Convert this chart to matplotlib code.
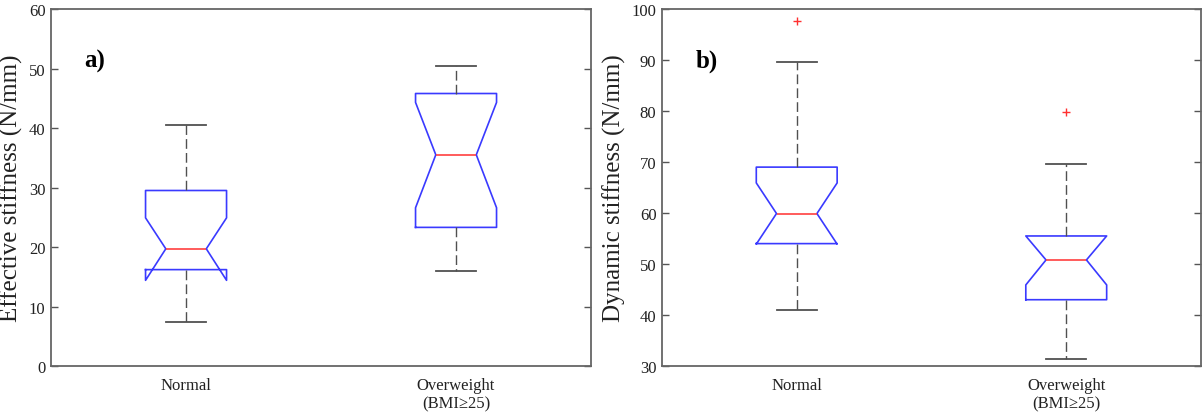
import matplotlib.pyplot as plt
import numpy as np

plt.rcParams["font.family"] = ["Liberation Serif", "DejaVu Serif"]

groups = ["Normal", "Overweight\n(BMI≥25)"]

# a) effective stiffness (N/mm)
eff_whislo = [7.4, 15.9]
eff_q1 = [16.2, 23.3]
eff_med = [19.7, 35.5]
eff_q3 = [29.5, 45.8]
eff_whishi = [40.45, 50.4]
eff_cilo = [14.4, 26.6]
eff_cihi = [24.9, 44.3]
eff_fliers = [[], []]

# b) dynamic stiffness (N/mm)
dyn_whislo = [41.0, 31.4]
dyn_q1 = [54.0, 43.0]
dyn_med = [59.9, 50.8]
dyn_q3 = [69.0, 55.5]
dyn_whishi = [89.6, 69.6]
dyn_cilo = [53.9, 45.9]
dyn_cihi = [65.9, 55.5]
dyn_fliers = [[97.7], [79.9]]


def make_stats(whislo, q1, med, q3, whishi, cilo, cihi, fliers):
    stats = []
    for i in range(len(med)):
        stats.append({
            "whislo": whislo[i], "q1": q1[i], "med": med[i], "q3": q3[i],
            "whishi": whishi[i], "cilo": cilo[i], "cihi": cihi[i],
            "fliers": np.array(fliers[i]),
        })
    return stats


fig = plt.figure(figsize=(12.04, 4.14), dpi=100)
ax1 = fig.add_axes([0.0424, 0.1135, 0.4485, 0.8623])
ax2 = fig.add_axes([0.5498, 0.1135, 0.4477, 0.8623])

panels = [
    (ax1, make_stats(eff_whislo, eff_q1, eff_med, eff_q3, eff_whishi,
                     eff_cilo, eff_cihi, eff_fliers),
     (0, 60), "Effective stiffness (N/mm)", "a)"),
    (ax2, make_stats(dyn_whislo, dyn_q1, dyn_med, dyn_q3, dyn_whishi,
                     dyn_cilo, dyn_cihi, dyn_fliers),
     (30, 100), "Dynamic stiffness (N/mm)", "b)"),
]

for ax, stats, ylim, ylabel, tag in panels:
    ax.bxp(
        stats,
        positions=[1, 2],
        widths=0.3,
        capwidths=0.15,
        shownotches=True,
        showfliers=True,
        boxprops=dict(color="#3a3aff", linewidth=1.2),
        medianprops=dict(color="#ff4040", linewidth=1.2),
        whiskerprops=dict(color="#505050", linewidth=1.0,
                          linestyle=(0, (7, 3))),
        capprops=dict(color="#505050", linewidth=1.3),
        flierprops=dict(marker="+", markeredgecolor="#ff3030",
                        markersize=6, markeredgewidth=1.0,
                        linestyle="none"),
    )
    ax.set_xlim(0.5, 2.5)
    ax.set_ylim(*ylim)
    ax.set_xticks([1, 2])
    ax.set_xticklabels(groups, fontsize=12, color="#222222")
    ax.tick_params(axis="x", length=0, pad=8)
    ax.tick_params(axis="y", direction="in", length=5, width=1.0,
                   color="#555555", labelsize=12, labelcolor="#222222",
                   right=True, pad=4)
    ax.set_ylabel(ylabel, fontsize=18, color="#222222", labelpad=4)
    for s in ax.spines.values():
        s.set_color("#666666")
        s.set_linewidth(1.3)
    ax.text(0.062, 0.855, tag, transform=ax.transAxes, fontsize=18,
            fontweight="bold", va="center", ha="left")

fig.savefig("out.png", dpi=100)
